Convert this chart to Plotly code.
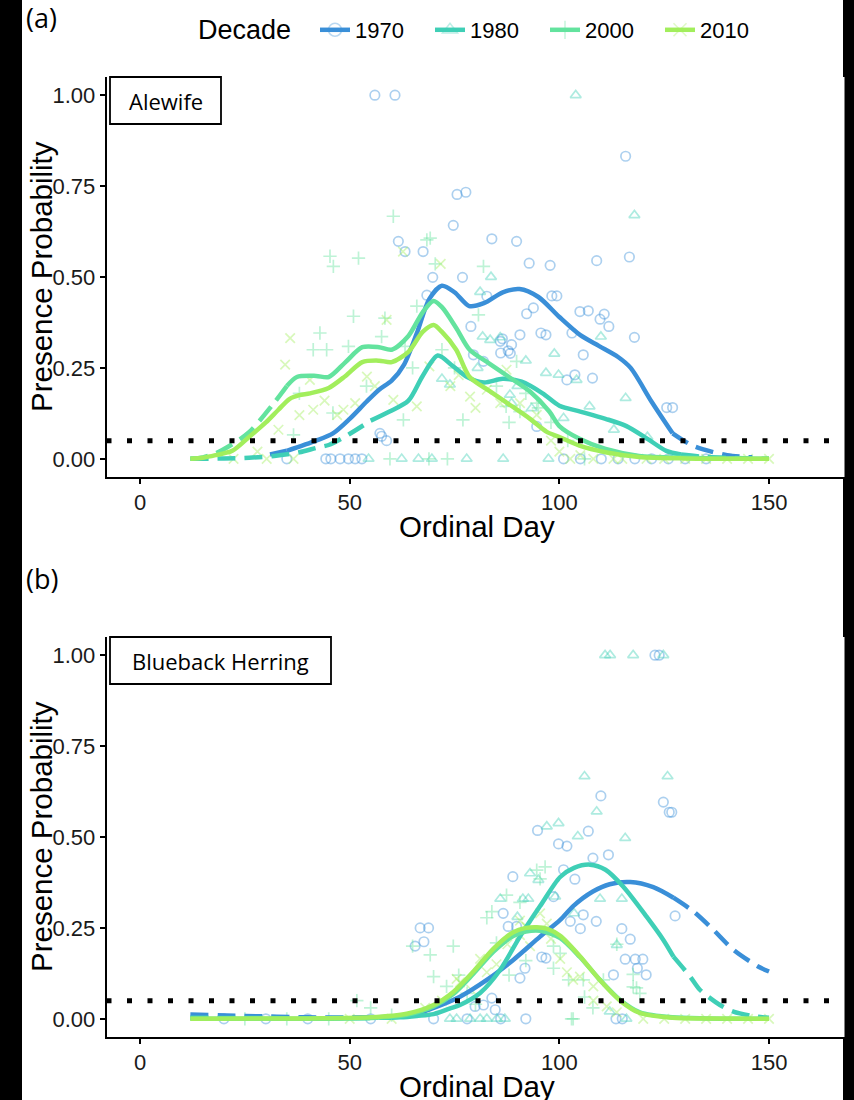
import plotly.graph_objects as go

W, H = 854, 1100

DECADES = ["1970", "1980", "2000", "2010"]
COLORS = {"1970": "#3a8fd8", "1980": "#3fcfb6", "2000": "#63e39e", "2010": "#a2ee5c"}
SYMBOLS = {"1970": "circle-open", "1980": "triangle-up-open",
           "2000": "cross-thin-open", "2010": "x-thin-open"}

X_TICKS = [0, 50, 100, 150]
Y_TICKS = [0, 0.25, 0.5, 0.75, 1.0]
THRESHOLD = 0.05
PANEL_LABELS = ["(a)", "(b)"]
SPECIES = ["Alewife", "Blueback Herring"]
LEGEND_TITLE = "Decade"

# ---------------- Panel (a) Alewife : fitted curves ----------------
A_1970_DAY = [31, 35, 42, 46, 50, 54, 57, 60, 63, 66, 69, 72, 75, 78.5, 82, 86.5, 90.5, 95, 100, 105, 109.5, 114, 117, 122, 127, 132, 140, 146]
A_1970_P = [0.012, 0.022, 0.05, 0.07, 0.11, 0.157, 0.19, 0.215, 0.26, 0.345, 0.44, 0.476, 0.458, 0.42, 0.428, 0.458, 0.467, 0.445, 0.39, 0.34, 0.31, 0.28, 0.25, 0.157, 0.07, 0.035, 0.01, 0.004]
A_1970_FIT = (35, 127)

A_1980_DAY = [12, 20, 26, 32, 38, 42, 45, 48, 51.6, 55, 59.5, 64, 67.4, 71, 74.5, 78, 82, 86.5, 91, 96, 100, 105, 111, 116, 121, 125.5, 129, 135, 142, 150]
A_1980_P = [0.0, 0.001, 0.003, 0.008, 0.018, 0.03, 0.038, 0.055, 0.08, 0.105, 0.13, 0.16, 0.228, 0.284, 0.256, 0.225, 0.21, 0.22, 0.212, 0.18, 0.146, 0.13, 0.11, 0.09, 0.055, 0.022, 0.012, 0.005, 0.002, 0.0]
A_1980_FIT = (55, 129)

A_2000_DAY = [12, 15, 18, 21.4, 26, 31.7, 35, 37.4, 42, 45, 49, 53, 57, 60, 64, 67.4, 70, 72, 75.4, 78.6, 83.3, 88, 93, 97.6, 100, 104.8, 111, 119, 130, 140, 150]
A_2000_P = [0.0, 0.004, 0.015, 0.036, 0.073, 0.15, 0.2, 0.225, 0.228, 0.225, 0.266, 0.307, 0.307, 0.3, 0.338, 0.403, 0.434, 0.417, 0.36, 0.3, 0.262, 0.225, 0.185, 0.13, 0.09, 0.055, 0.027, 0.008, 0.003, 0.001, 0.0]
A_2000_FIT = (35, 150)

A_2010_DAY = [12, 15, 18, 22, 26, 30, 33, 35.7, 38, 40.5, 45, 49, 53, 57, 60, 64, 67.4, 70, 72, 75.4, 78.6, 83.3, 88, 93, 97, 100, 104.8, 111, 119, 130, 150]
A_2010_P = [0.0, 0.003, 0.01, 0.022, 0.06, 0.1, 0.135, 0.165, 0.175, 0.18, 0.195, 0.228, 0.266, 0.27, 0.266, 0.294, 0.349, 0.368, 0.349, 0.3, 0.225, 0.187, 0.15, 0.11, 0.074, 0.06, 0.036, 0.018, 0.005, 0.001, 0.0]
A_2010_FIT = (12, 150)

# ---------------- Panel (a) Alewife : observations ----------------
A_1970_OBS_DAY = [56, 60.8, 115.8, 75.6, 77.7, 74.7, 83.9, 89.8, 61.6, 63.2, 67.5, 92.8, 97.8, 108.9, 116.7, 69.8, 76.9, 82.7, 98.2, 99.4, 92.2, 93.8, 104.9, 106.9, 110.7, 109.7, 111.8, 78.9, 90.6, 95.6, 96.8, 103, 117.9, 85.9, 87.8, 86, 88.6, 105.7, 101.8, 103.7, 107.9, 81.9, 79.5, 125.6, 127, 94.6, 57.2, 58.8, 57.6, 35, 44.3, 45.5, 47.7, 49.7, 51.3, 52.9, 101, 105, 110, 114, 118, 122, 126, 130, 135, 68.4, 86.4, 88.3]
A_1970_OBS_P = [1.0, 1.0, 0.832, 0.727, 0.733, 0.642, 0.605, 0.598, 0.598, 0.57, 0.57, 0.538, 0.532, 0.545, 0.555, 0.499, 0.499, 0.447, 0.448, 0.448, 0.399, 0.415, 0.405, 0.407, 0.398, 0.384, 0.364, 0.364, 0.341, 0.346, 0.341, 0.346, 0.334, 0.323, 0.297, 0.291, 0.314, 0.286, 0.217, 0.231, 0.222, 0.268, 0.286, 0.141, 0.141, 0.089, 0.07, 0.05, 0.062, 0.0, 0.0, 0.0, 0.0, 0.0, 0.0, 0.0, 0.0, 0.0, 0.0, 0.0, 0.0, 0.0, 0.0, 0.0, 0.0, 0.45, 0.33, 0.29]

A_1980_OBS_DAY = [103.9, 117.9, 83.7, 81.1, 81.7, 85.9, 83.5, 98.8, 96.8, 99.8, 104.1, 109.9, 115.8, 107.2, 73.9, 88.2, 88.6, 101, 93.4, 54.5, 62.4, 66.4, 69.6, 77.9, 86.6, 97.4, 121, 113, 90, 72, 80.5, 92]
A_1980_OBS_P = [1.0, 0.67, 0.5, 0.459, 0.336, 0.334, 0.327, 0.289, 0.236, 0.231, 0.217, 0.336, 0.167, 0.144, 0.204, 0.176, 0.153, 0.112, 0.139, 0.0, 0.0, 0.0, 0.0, 0.0, 0.0, 0.0, 0.06, 0.08, 0.2, 0.22, 0.25, 0.27]

A_2000_OBS_DAY = [60.4, 45.3, 46.1, 52.1, 68.4, 50.9, 58.4, 42.9, 41.3, 44.5, 49.7, 57.6, 63.2, 36.6, 46, 62.8, 59.6, 65, 69.2, 70.4, 81.9, 80.7, 89.8, 77, 106, 66, 72, 75, 85, 92, 95, 98, 102, 88, 90.6, 87.3, 94.6, 68.9, 73.3, 54, 38]
A_2000_OBS_P = [0.667, 0.557, 0.529, 0.552, 0.602, 0.392, 0.387, 0.346, 0.3, 0.3, 0.309, 0.336, 0.309, 0.066, 0.126, 0.107, 0.0, 0.25, 0.607, 0.536, 0.529, 0.396, 0.268, 0.107, 0.0, 0.42, 0.3, 0.25, 0.2, 0.18, 0.14, 0.1, 0.05, 0.1, 0.13, 0.144, 0.153, 0.0, 0.0, 0.2, 0.18]

A_2010_OBS_DAY = [35.8, 34.6, 58.8, 62.7, 48.5, 51.3, 41.3, 54.1, 40.5, 60.4, 22.3, 30.2, 36.6, 66, 71.7, 69, 78.7, 82.7, 85.9, 90.6, 94.6, 102.6, 108.1, 112.9, 120.8, 87.4, 44, 47, 56, 74, 76, 80, 98, 100, 105, 115, 125, 130, 135, 140, 145, 150, 38, 33, 28]
A_2010_OBS_P = [0.332, 0.259, 0.382, 0.57, 0.135, 0.153, 0.135, 0.226, 0.217, 0.162, 0.0, 0.0, 0.0, 0.144, 0.536, 0.254, 0.171, 0.19, 0.153, 0.153, 0.121, 0.0, 0.0, 0.0, 0.0, 0.245, 0.16, 0.12, 0.2, 0.2, 0.23, 0.14, 0.05, 0.02, 0.01, 0.0, 0.0, 0.0, 0.0, 0.0, 0.0, 0.0, 0.12, 0.08, 0.02]

# ---------------- Panel (b) Blueback Herring : fitted curves ----------------
B_1970_DAY = [12, 25, 40, 55, 60, 62, 66, 70, 76.3, 82.7, 89, 95.4, 100.2, 103.3, 108, 112, 116.9, 122.4, 127.2, 132, 136.7, 141.5, 147.4, 150]
B_1970_P = [0.012, 0.008, 0.004, 0.004, 0.006, 0.007, 0.014, 0.03, 0.061, 0.107, 0.162, 0.226, 0.272, 0.31, 0.35, 0.37, 0.376, 0.362, 0.333, 0.295, 0.245, 0.19, 0.144, 0.13]
B_1970_FIT = (60, 127.2)

B_1980_DAY = [12, 30, 50, 60, 62, 66, 70, 73.8, 76.3, 81.1, 85.9, 90.6, 95.4, 100.2, 103.5, 107.3, 111, 115.2, 120.8, 124.8, 127.2, 131.2, 133.5, 138.3, 141.5, 147, 150]
B_1980_P = [0.003, 0.002, 0.002, 0.003, 0.004, 0.008, 0.013, 0.028, 0.038, 0.071, 0.135, 0.226, 0.31, 0.39, 0.415, 0.424, 0.41, 0.364, 0.281, 0.217, 0.171, 0.116, 0.08, 0.038, 0.02, 0.006, 0.003]
B_1980_FIT = (60, 127.2)

B_2000_DAY = [12, 40, 55, 63.6, 70, 74.7, 79.5, 84.3, 89, 92, 95.5, 100.2, 104.9, 109.7, 114.5, 119.2, 127, 135, 150]
B_2000_P = [0.0, 0.0, 0.002, 0.011, 0.034, 0.068, 0.124, 0.185, 0.228, 0.24, 0.242, 0.222, 0.17, 0.107, 0.052, 0.018, 0.004, 0.001, 0.0]
B_2000_FIT = (12, 150)

B_2010_DAY = [12, 40, 55, 63.6, 70, 74.7, 79.5, 84.3, 89, 92, 94.6, 97, 100.2, 104.9, 109.7, 114.5, 119.2, 127, 135, 150]
B_2010_P = [0.0, 0.001, 0.004, 0.014, 0.038, 0.074, 0.13, 0.193, 0.238, 0.25, 0.252, 0.248, 0.228, 0.172, 0.106, 0.05, 0.016, 0.003, 0.001, 0.0]
B_2010_FIT = (12, 150)

# ---------------- Panel (b) Blueback Herring : observations ----------------
B_1970_OBS_DAY = [122.8, 123.8, 109.9, 124.8, 126.2, 126.8, 94.8, 99.8, 101.8, 106.9, 108, 111.7, 88.9, 101, 103.7, 98.6, 86.6, 87.8, 89.8, 102.6, 105, 108.8, 105.7, 114.9, 116.9, 127.6, 66.8, 68.8, 65.6, 67.7, 115.7, 118.1, 119.9, 118.6, 120.7, 95.8, 96.8, 112.9, 91.8, 90.6, 83.9, 84.7, 81.9, 79.9, 113.5, 115, 70, 78, 86, 92, 55, 40, 30, 20]
B_1970_OBS_P = [1.0, 1.0, 0.613, 0.596, 0.568, 0.568, 0.518, 0.481, 0.475, 0.516, 0.442, 0.451, 0.391, 0.41, 0.384, 0.336, 0.29, 0.254, 0.254, 0.268, 0.248, 0.268, 0.286, 0.248, 0.219, 0.283, 0.25, 0.25, 0.2, 0.212, 0.164, 0.164, 0.164, 0.139, 0.121, 0.17, 0.167, 0.121, 0.139, 0.112, 0.057, 0.025, 0.038, 0.034, 0.0, 0.0, 0.0, 0.0, 0.0, 0.0, 0.0, 0.0, 0.0, 0.0]

B_1980_OBS_DAY = [110.9, 112.1, 117.6, 124.8, 106, 125.8, 108.9, 97, 99.8, 104.4, 115.7, 93, 95, 85.9, 91.3, 92.6, 99, 109.7, 114.9, 113.7, 73.9, 75.5, 78.7, 81.1, 82.7, 85.1, 87, 116, 112, 90, 103.5]
B_1980_OBS_P = [1.0, 1.0, 1.0, 1.0, 0.667, 0.667, 0.57, 0.529, 0.538, 0.502, 0.497, 0.4, 0.382, 0.33, 0.33, 0.33, 0.336, 0.33, 0.33, 0.203, 0.0, 0.0, 0.0, 0.0, 0.0, 0.0, 0.0, 0.0, 0.02, 0.28, 0.29]

B_2000_OBS_DAY = [74.7, 83.9, 87.4, 94.6, 96.6, 103.3, 98.6, 102.2, 105.7, 110.5, 119.2, 117.6, 51.7, 55, 69.2, 70, 73.1, 85, 82.7, 90.6, 95.4, 98.6, 100.2, 113.7, 117.6, 118.4, 102.9, 65, 76, 78, 80, 88, 92, 106, 108, 60, 45, 35, 25]
B_2000_OBS_P = [0.2, 0.295, 0.34, 0.409, 0.418, 0.0, 0.139, 0.107, 0.107, 0.107, 0.07, 0.088, 0.05, 0.03, 0.176, 0.116, 0.089, 0.209, 0.278, 0.32, 0.385, 0.2, 0.18, 0.205, 0.122, 0.085, 0.0, 0.2, 0.12, 0.07, 0.04, 0.12, 0.16, 0.06, 0.03, 0.01, 0.0, 0.0, 0.0]

B_2010_OBS_DAY = [90.6, 92.2, 97, 95.4, 81.1, 82.7, 76.3, 75.5, 87.6, 90.6, 100.2, 101.8, 103.3, 104.9, 108.1, 108.1, 111.3, 113.7, 85, 93, 98, 72, 68, 79, 60, 50, 120, 125, 130, 135, 140, 145, 150]
B_2010_OBS_P = [0.27, 0.253, 0.262, 0.29, 0.165, 0.128, 0.1, 0.11, 0.205, 0.23, 0.165, 0.128, 0.107, 0.116, 0.089, 0.05, 0.034, 0.018, 0.15, 0.2, 0.22, 0.05, 0.03, 0.08, 0.0, 0.0, 0.0, 0.0, 0.0, 0.0, 0.0, 0.0, 0.0]

PANELS = [
    {
        "curves": {"1970": (A_1970_DAY, A_1970_P, A_1970_FIT), "1980": (A_1980_DAY, A_1980_P, A_1980_FIT),
                   "2000": (A_2000_DAY, A_2000_P, A_2000_FIT), "2010": (A_2010_DAY, A_2010_P, A_2010_FIT)},
        "obs": {"1970": (A_1970_OBS_DAY, A_1970_OBS_P), "1980": (A_1980_OBS_DAY, A_1980_OBS_P),
                "2000": (A_2000_OBS_DAY, A_2000_OBS_P), "2010": (A_2010_OBS_DAY, A_2010_OBS_P)},
    },
    {
        "curves": {"1970": (B_1970_DAY, B_1970_P, B_1970_FIT), "1980": (B_1980_DAY, B_1980_P, B_1980_FIT),
                   "2000": (B_2000_DAY, B_2000_P, B_2000_FIT), "2010": (B_2010_DAY, B_2010_P, B_2010_FIT)},
        "obs": {"1970": (B_1970_OBS_DAY, B_1970_OBS_P), "1980": (B_1980_OBS_DAY, B_1980_OBS_P),
                "2000": (B_2000_OBS_DAY, B_2000_OBS_P), "2010": (B_2010_OBS_DAY, B_2010_OBS_P)},
    },
]

# ---------------- layout geometry (pixels) ----------------
PLOT_L, PLOT_R = 106.5, 844.5
PANEL_TB = [(77, 477), (637, 1037)]
X_RANGE = [-8, 168]
Y_RANGE = [-0.05, 1.05]


def px_x(x):
    return x / W


def px_y(y):
    return 1 - y / H


def rgba(hexc, a):
    h = hexc.lstrip("#")
    r, g, b = int(h[0:2], 16), int(h[2:4], 16), int(h[4:6], 16)
    return f"rgba({r},{g},{b},{a})"


fig = go.Figure()

LINE_W = 4.5
DASH = "18px,9px"
MARK_A = 0.42

for i, panel in enumerate(PANELS):
    xa = "x" if i == 0 else "x2"
    ya = "y" if i == 0 else "y2"
    # observations
    for dec in DECADES:
        d, p = panel["obs"][dec]
        fig.add_trace(go.Scatter(
            x=d, y=p, mode="markers", xaxis=xa, yaxis=ya, showlegend=False, hoverinfo="skip",
            marker=dict(symbol=SYMBOLS[dec], size=9.5, color=rgba(COLORS[dec], MARK_A),
                        line=dict(width=1.7, color=rgba(COLORS[dec], MARK_A)))))
    # fitted curves
    for dec in DECADES:
        d, p, (lo, hi) = panel["curves"][dec]
        pre = [(a, b) for a, b in zip(d, p) if a <= lo]
        mid = [(a, b) for a, b in zip(d, p) if lo <= a <= hi]
        post = [(a, b) for a, b in zip(d, p) if a >= hi]
        for seg, dash in ((pre, DASH), (mid, "solid"), (post, DASH)):
            if len(seg) < 2:
                continue
            fig.add_trace(go.Scatter(
                x=[s[0] for s in seg], y=[s[1] for s in seg], mode="lines",
                xaxis=xa, yaxis=ya, showlegend=False, hoverinfo="skip",
                line=dict(color=COLORS[dec], width=LINE_W, dash=dash, shape="spline", smoothing=0.8)))
    # threshold line
    fig.add_trace(go.Scatter(
        x=[X_RANGE[0], X_RANGE[1]], y=[THRESHOLD, THRESHOLD], mode="lines", xaxis=xa, yaxis=ya,
        showlegend=False, hoverinfo="skip",
        line=dict(color="black", width=5, dash="5px,15.5px")))

# legend entries
for dec in DECADES:
    fig.add_trace(go.Scatter(
        x=[None], y=[None], mode="lines+markers", name=dec,
        line=dict(color=COLORS[dec], width=LINE_W),
        marker=dict(symbol=SYMBOLS[dec], size=13, color=rgba(COLORS[dec], 0.35),
                    line=dict(width=1.6, color=rgba(COLORS[dec], 0.35)))))

axis_common = dict(
    showgrid=False, zeroline=False, showline=True, linecolor="black", linewidth=1.6,
    ticks="outside", ticklen=5, tickwidth=1.6, tickcolor="black",
    tickfont=dict(family="Liberation Sans, Arial", size=22, color="#1a1a1a"),
    automargin=False, fixedrange=True,
)

layout = dict(
    width=W, height=H, margin=dict(l=0, r=0, t=0, b=0),
    paper_bgcolor="black", plot_bgcolor="white",
    font=dict(family="Liberation Sans, Arial", color="black"),
    showlegend=True,
    legend=dict(orientation="h", x=px_x(315), xanchor="left", y=px_y(30), yanchor="middle",
                font=dict(size=22, family="Liberation Sans, Arial"),
                entrywidth=70, entrywidthmode="pixels",
                bgcolor="rgba(0,0,0,0)", itemwidth=30, tracegroupgap=0),
)

for i, (top, bot) in enumerate(PANEL_TB):
    xk = "xaxis" if i == 0 else "xaxis2"
    yk = "yaxis" if i == 0 else "yaxis2"
    layout[xk] = dict(axis_common, domain=[px_x(PLOT_L), px_x(PLOT_R)], range=X_RANGE,
                      tickvals=X_TICKS, ticktext=[str(t) for t in X_TICKS],
                      anchor="y" if i == 0 else "y2")
    layout[yk] = dict(axis_common, domain=[px_y(bot), px_y(top)], range=Y_RANGE,
                      tickvals=Y_TICKS, ticktext=[f"{t:.2f}" for t in Y_TICKS],
                      anchor="x" if i == 0 else "x2")

fig.update_layout(**layout)

shapes = [dict(type="rect", xref="paper", yref="paper", x0=px_x(22), x1=px_x(843), y0=0, y1=1,
               fillcolor="white", line=dict(width=0), layer="below")]
annotations = [dict(text=LEGEND_TITLE, xref="paper", yref="paper", x=px_x(196), y=px_y(30),
                    showarrow=False, xanchor="left", yanchor="middle",
                    font=dict(family="Liberation Sans, Arial", size=27, color="black"))]
BOX_W = [111, 221]
for i, (top, bot) in enumerate(PANEL_TB):
    # species label box
    shapes.append(dict(type="rect", xref="paper", yref="paper",
                       x0=px_x(110), x1=px_x(110 + BOX_W[i]), y0=px_y(top + 47), y1=px_y(top),
                       fillcolor="white", line=dict(color="black", width=1.8), layer="above"))
    annotations.append(dict(text=SPECIES[i], xref="paper", yref="paper",
                            x=px_x(110 + BOX_W[i] / 2), y=px_y(top + 24), showarrow=False,
                            xanchor="center", yanchor="middle",
                            font=dict(family="Open Sans", size=22, color="black")))
    # panel tag
    annotations.append(dict(text=PANEL_LABELS[i], xref="paper", yref="paper",
                            x=px_x(24), y=px_y(top - 59), showarrow=False,
                            xanchor="left", yanchor="middle",
                            font=dict(family="Open Sans", size=27, color="black")))
    # axis titles
    annotations.append(dict(text="Presence Probability", xref="paper", yref="paper",
                            x=px_x(41), y=px_y((top + bot) / 2), showarrow=False, textangle=-90,
                            xanchor="center", yanchor="middle",
                            font=dict(family="Liberation Sans, Arial", size=29.5, color="black")))
    annotations.append(dict(text="Ordinal Day", xref="paper", yref="paper",
                            x=px_x((110 + 843) / 2), y=px_y(bot + 49), showarrow=False,
                            xanchor="center", yanchor="middle",
                            font=dict(family="Liberation Sans, Arial", size=29.5, color="black")))

fig.update_layout(shapes=shapes, annotations=annotations)

fig.write_html("out.html")
